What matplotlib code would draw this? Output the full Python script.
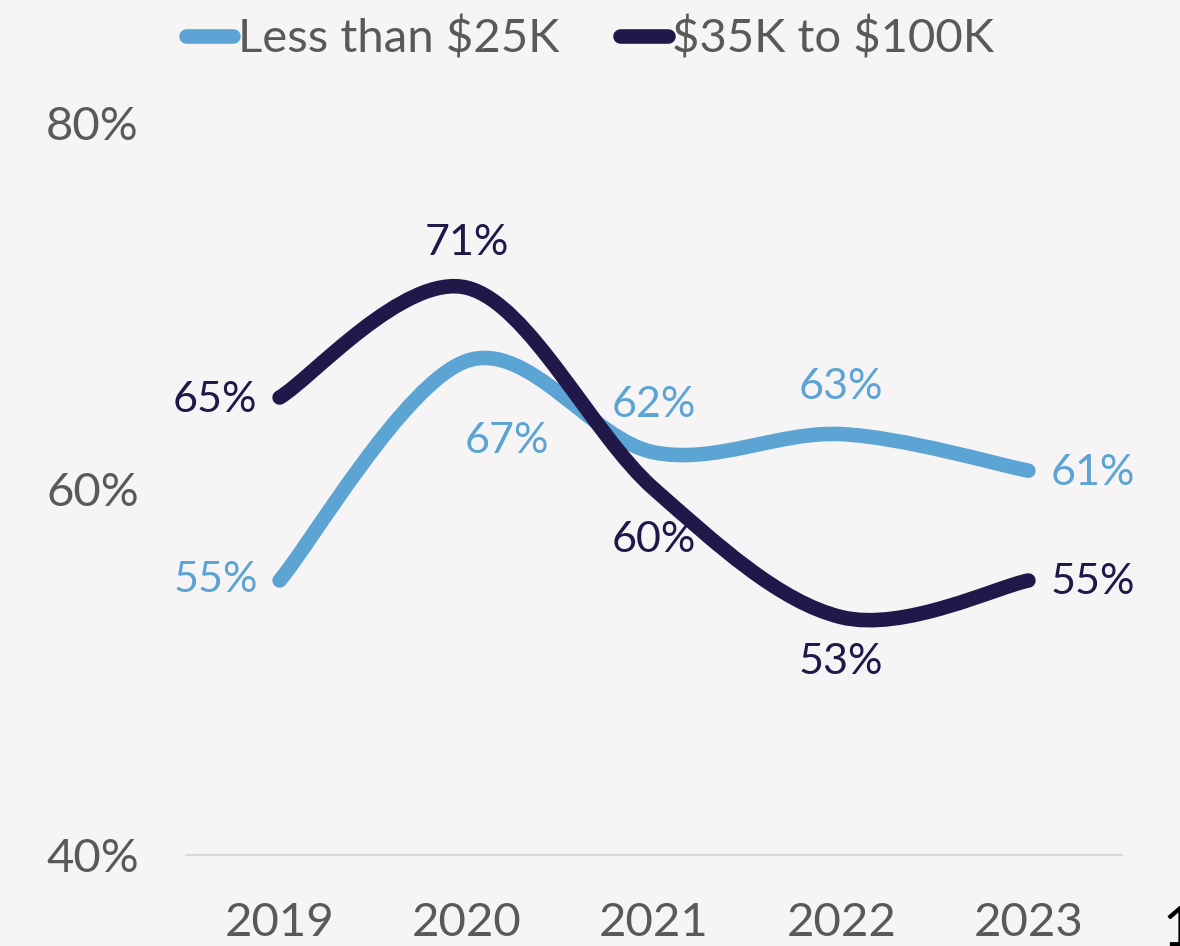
import numpy as np
import matplotlib
matplotlib.use("Agg")
import matplotlib.pyplot as plt
from matplotlib.path import Path
from matplotlib.patches import PathPatch

years = ["2019", "2020", "2021", "2022", "2023"]
low_income = [55, 67, 62, 63, 61]
mid_income = [65, 71, 60, 53, 55]
series_names = [r"Less than \$25K", r"\$35K to \$100K"]
y_ticks = [40, 60, 80]

C_LIGHT = "#5BA4D4"
C_DARK = "#211849"
C_TEXT = "#595959"
BG = "#F6F4F5"

plt.rcParams['font.family'] = ['Lato', 'DejaVu Sans']

fig = plt.figure(figsize=(11.8, 9.46), dpi=100, facecolor=BG)
ax = fig.add_axes([186/1180, 1-855/946, 936/1180, (855-123)/946])
ax.set_facecolor(BG)


def smooth_path(xs, ys):
    pts = np.column_stack([xs, ys]).astype(float)
    n = len(pts)
    verts = [pts[0]]
    codes = [Path.MOVETO]
    for i in range(n - 1):
        p0 = pts[i - 1] if i > 0 else pts[i]
        p1 = pts[i]
        p2 = pts[i + 1]
        p3 = pts[i + 2] if i + 2 < n else pts[i + 1]
        c1 = p1 + (p2 - p0) / 6.0
        c2 = p2 - (p3 - p1) / 6.0
        verts += [c1, c2, p2]
        codes += [Path.CURVE4] * 3
    return Path(verts, codes)


x = np.arange(len(years))
for vals, col in [(low_income, C_LIGHT), (mid_income, C_DARK)]:
    patch = PathPatch(smooth_path(x, vals), facecolor='none', edgecolor=col,
                      lw=10.5, capstyle='round', joinstyle='round')
    ax.add_patch(patch)

ax.set_xlim(-0.5, len(years) - 0.5)
ax.set_ylim(40, 80)
ax.set_xticks(x)
ax.set_xticklabels(years)
ax.set_yticks(y_ticks)
ax.set_yticklabels([f"{v}%" for v in y_ticks])
ax.tick_params(length=0, labelsize=34, colors=C_TEXT)
ax.tick_params(axis='x', pad=34)
ax.tick_params(axis='y', pad=34)
for s in ['top', 'right', 'left']:
    ax.spines[s].set_visible(False)
ax.spines['bottom'].set_color('#D9D9D9')
ax.spines['bottom'].set_linewidth(1.5)

# data labels: (dx, dy in pixels, ha)
low_offsets = [(-22, 0, 'right'), (40, -80, 'center'), (0, 47, 'center'),
               (0, 47, 'center'), (22, -2, 'left')]
mid_offsets = [(-22, -3, 'right'), (0, 45, 'center'), (0, -51, 'center'),
               (0, -45, 'center'), (22, -2, 'left')]
for vals, offs, col in [(low_income, low_offsets, C_LIGHT), (mid_income, mid_offsets, C_DARK)]:
    for xi, v, (dx, dy, ha) in zip(x, vals, offs):
        ax.annotate(f"{v}%", (xi, v), xytext=(dx, dy), textcoords='offset pixels',
                    ha=ha, va='center', fontsize=31, color=col, annotation_clip=False)

handles = [plt.Line2D([], [], color=C_LIGHT, lw=10.5, solid_capstyle='round'),
           plt.Line2D([], [], color=C_DARK, lw=10.5, solid_capstyle='round')]
leg = fig.legend(handles, series_names, loc='upper center', ncol=2,
                 bbox_to_anchor=(0.5, 1.027), frameon=False, fontsize=34,
                 handlelength=1.0, handletextpad=0.1, columnspacing=1.3)
for t in leg.get_texts():
    t.set_color(C_TEXT)

fig.text(1163/1180, 1-905/946, "1", fontsize=40, color='black', ha='left', va='top')

fig.savefig("out.png", dpi=100, facecolor=BG)
